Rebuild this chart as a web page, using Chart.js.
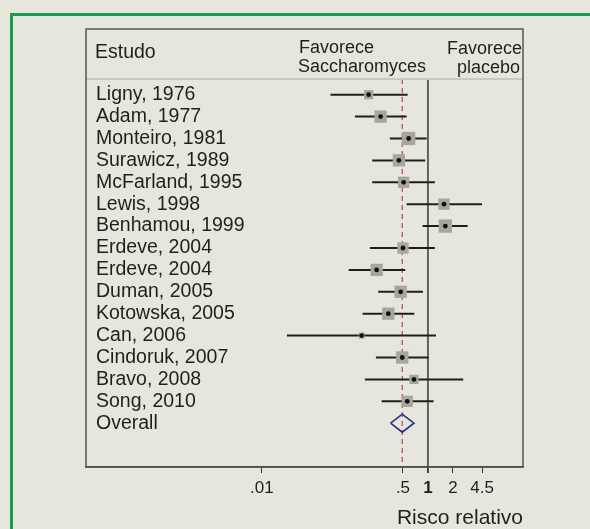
<!DOCTYPE html>
<html>
<head>
<meta charset="utf-8">
<script src="https://cdn.jsdelivr.net/npm/chart.js@4.4.0/dist/chart.umd.min.js"></script>
<style>
  html, body { margin: 0; padding: 0; background: #e7e6dc; }
  #wrap { width: 590px; height: 529px; }
</style>
</head>
<body>
<div id="wrap"><canvas id="forest" width="590" height="529"></canvas></div>
<script>
// studies, top to bottom
const studies = ["Ligny, 1976", "Adam, 1977", "Monteiro, 1981", "Surawicz, 1989",
  "McFarland, 1995", "Lewis, 1998", "Benhamou, 1999", "Erdeve, 2004", "Erdeve, 2004",
  "Duman, 2005", "Kotowska, 2005", "Can, 2006", "Cindoruk, 2007", "Bravo, 2008", "Song, 2010"];
// relative risk and 95% CI
const rr     = [0.193, 0.269, 0.585, 0.447, 0.509, 1.56, 1.62, 0.50, 0.241, 0.469, 0.333, 0.159, 0.490, 0.678, 0.563];
const ciLow  = [0.067, 0.132, 0.348, 0.213, 0.213, 0.554, 0.863, 0.20, 0.111, 0.252, 0.163, 0.020, 0.236, 0.174, 0.277];
const ciHigh = [0.569, 0.554, 0.965, 0.928, 1.21, 4.47, 3.01, 1.21, 0.533, 0.87, 0.684, 1.25, 1.02, 2.66, 1.17];
// study weights (%), drive the size of the grey boxes
const weights = [4.6, 8.2, 9.6, 8.2, 6.9, 6.9, 9.6, 6.9, 8.2, 8.2, 8.2, 2.0, 8.2, 4.6, 6.9];
// pooled estimate: low, estimate, high
const overallLabel = "Overall";
const overallRR = [0.355, 0.49, 0.678];

const xTickValues = [0.01, 0.5, 1, 2, 4.5];
const xTickLabels = [".01", ".5", "1", "2", "4.5"];

const FONT = "'Liberation Sans', Arial, sans-serif";
const overallRow = studies.length + 1;
const headerLine = 0.28; // y value of the header separator

// confidence interval lines, one per study
const ciSets = studies.map((s, i) => ({
  data: [{ x: ciLow[i], y: i + 1 }, { x: ciHigh[i], y: i + 1 }],
  showLine: true,
  borderColor: "#1e1e1e",
  borderWidth: 2,
  pointRadius: 0,
  order: 3
}));

const estPoints = rr.map((v, i) => ({ x: v, y: i + 1 }));

const datasets = [
  {
    // centre dots
    data: estPoints,
    pointStyle: "circle",
    pointRadius: 2.4,
    backgroundColor: "#111111",
    borderWidth: 0,
    order: 0
  },
  {
    // weight boxes
    data: estPoints,
    pointStyle: "rect",
    pointRadius: weights.map(w => 4.3 * Math.sqrt(w) / Math.SQRT2),
    backgroundColor: "#a6a6a0",
    borderWidth: 0,
    order: 1
  },
  {
    // pooled diamond
    data: [
      { x: overallRR[0], y: overallRow },
      { x: overallRR[1], y: overallRow - 0.41 },
      { x: overallRR[2], y: overallRow },
      { x: overallRR[1], y: overallRow + 0.41 },
      { x: overallRR[0], y: overallRow }
    ],
    showLine: true,
    borderColor: "#2b2b8f",
    borderWidth: 1.6,
    pointRadius: 0,
    order: 2
  },
  ...ciSets,
  {
    // line of no effect
    data: [{ x: 1, y: headerLine }, { x: 1, y: 18 }],
    showLine: true,
    borderColor: "#3a3a3a",
    borderWidth: 1.5,
    pointRadius: 0,
    order: 4
  },
  {
    // pooled estimate, dashed
    data: [{ x: overallRR[1], y: headerLine }, { x: overallRR[1], y: 18 }],
    showLine: true,
    borderColor: "#b5454f",
    borderWidth: 1.2,
    borderDash: [5, 4],
    pointRadius: 0,
    order: 4
  }
];

// frame, header and study labels
const decor = {
  id: "decor",
  beforeDraw(chart) {
    const ctx = chart.ctx;
    ctx.save();
    ctx.strokeStyle = "#1a9c4c";
    ctx.lineWidth = 3;
    ctx.beginPath();
    ctx.moveTo(11.5, 600);
    ctx.lineTo(11.5, 14.5);
    ctx.lineTo(600, 14.5);
    ctx.stroke();
    ctx.restore();
  },
  afterDraw(chart) {
    const ctx = chart.ctx;
    const a = chart.chartArea;
    const y = chart.scales.y;
    ctx.save();
    // header separator
    const hy = y.getPixelForValue(headerLine);
    ctx.strokeStyle = "#c9c9c1";
    ctx.lineWidth = 2;
    ctx.beginPath();
    ctx.moveTo(a.left, hy);
    ctx.lineTo(a.right, hy);
    ctx.stroke();
    // box
    ctx.strokeStyle = "#555555";
    ctx.lineWidth = 1.5;
    ctx.strokeRect(a.left, a.top, a.right - a.left, a.bottom - a.top);

    ctx.fillStyle = "#1f1f1f";
    ctx.textBaseline = "middle";
    ctx.font = "19.5px " + FONT;
    ctx.textAlign = "left";
    ctx.fillText("Estudo", a.left + 9, 53);
    studies.concat([overallLabel]).forEach((s, i) => {
      ctx.fillText(s, a.left + 10, y.getPixelForValue(i + 1));
    });
    ctx.font = "18px " + FONT;
    ctx.fillText("Favorece", 299, 48);
    ctx.fillText("Saccharomyces", 298, 67);
    ctx.textAlign = "right";
    ctx.fillText("Favorece", a.right - 1, 49);
    ctx.fillText("placebo", a.right - 3, 68);
    ctx.restore();
  }
};

new Chart(document.getElementById("forest"), {
  type: "scatter",
  data: { datasets: datasets },
  options: {
    responsive: false,
    animation: false,
    layout: { padding: { left: 86, right: 67, top: 29, bottom: 0 } },
    plugins: { legend: { display: false }, tooltip: { enabled: false } },
    scales: {
      x: {
        type: "logarithmic",
        min: 7.6e-5,
        max: 13.96,
        afterBuildTicks: s => { s.ticks = xTickValues.map(v => ({ value: v })); },
        afterFit: s => { s.height = 62; },
        ticks: {
          autoSkip: false,
          maxRotation: 0,
          padding: 5,
          color: "#1f1f1f",
          font: c => ({ family: FONT, size: 17, weight: c.tick && c.tick.value === 1 ? "bold" : "normal" }),
          callback: v => {
            const k = xTickValues.indexOf(v);
            return k >= 0 ? xTickLabels[k] : "";
          }
        },
        grid: {
          drawOnChartArea: false,
          drawTicks: true,
          tickLength: 6,
          color: "#333333",
          lineWidth: c => (c.tick && c.tick.value === 1 ? 1.8 : 1)
        },
        border: { display: true, color: "#333333", width: 1.5 },
        title: {
          display: true,
          text: "Risco relativo",
          align: "end",
          color: "#1f1f1f",
          font: { family: FONT, size: 21, lineHeight: 1 },
          padding: { top: 0, bottom: 0 }
        }
      },
      y: {
        type: "linear",
        min: -2,
        max: 18,
        reverse: true,
        display: false
      }
    }
  },
  plugins: [decor]
});
</script>
</body>
</html>
